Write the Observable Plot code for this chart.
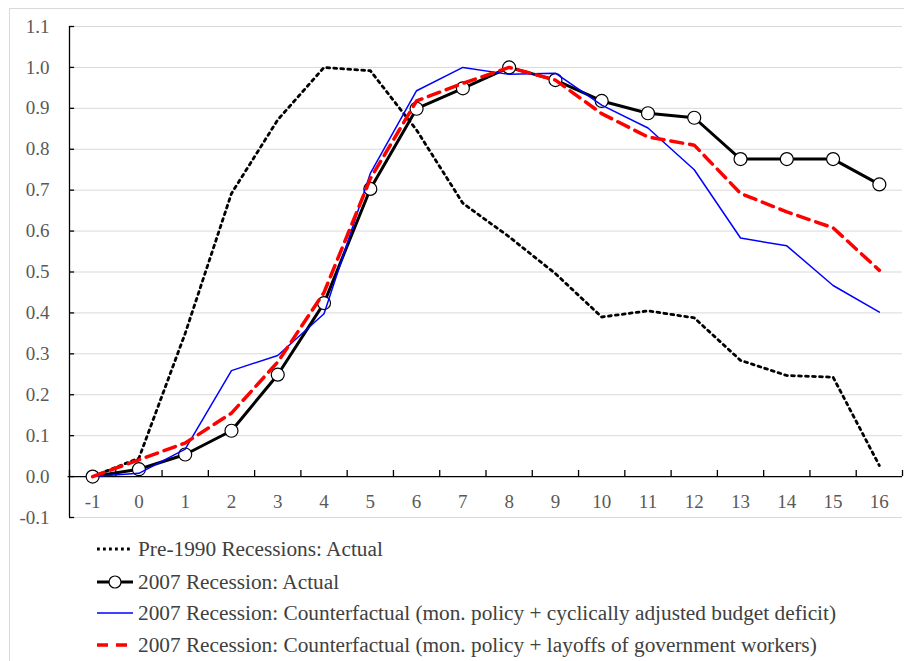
<!DOCTYPE html>
<html>
<head>
<meta charset="utf-8">
<script src="https://cdn.jsdelivr.net/npm/d3@7"></script>
<script src="https://cdn.jsdelivr.net/npm/@observablehq/plot@0.6"></script>
<style>
  html, body { margin: 0; padding: 0; background: #fff; }
  #wrap { position: relative; width: 904px; height: 661px; overflow: hidden; font-family: "Liberation Serif", "Times New Roman", serif; }
  #frame { position: absolute; left: 9px; top: 8px; width: 1000px; height: 1000px; border: 1px solid #d9d9d9; box-sizing: border-box; }
  #chart { position: absolute; left: 0; top: 0; }
  .leg { position: absolute; left: 95px; height: 30px; display: flex; align-items: center; font-size: 21.3px; color: #404040; white-space: nowrap; }
  .leg svg { display: block; margin-right: 3px; }
</style>
</head>
<body>
<div id="wrap">
  <div id="frame"></div>
  <div id="chart"></div>
  <div id="legend"></div>
</div>
<script>
// Quarters relative to the recession start
const quarters = [-1, 0, 1, 2, 3, 4, 5, 6, 7, 8, 9, 10, 11, 12, 13, 14, 15, 16];
const pre1990Actual = [0, 0.045, 0.35, 0.692, 0.872, 1.0, 0.992, 0.847, 0.668, 0.586, 0.496, 0.39, 0.405, 0.388, 0.284, 0.247, 0.243, 0.027];
const rec2007Actual = [0, 0.018, 0.054, 0.112, 0.249, 0.424, 0.703, 0.899, 0.949, 1.0, 0.969, 0.918, 0.888, 0.877, 0.776, 0.776, 0.776, 0.714];
const cfBudget = [0, 0.008, 0.067, 0.259, 0.296, 0.398, 0.741, 0.943, 1.0, 0.983, 0.986, 0.908, 0.852, 0.750, 0.583, 0.564, 0.467, 0.402];
const cfLayoffs = [0, 0.041, 0.082, 0.155, 0.28, 0.45, 0.728, 0.918, 0.961, 1.0, 0.969, 0.887, 0.830, 0.810, 0.692, 0.647, 0.608, 0.504];
const yTicks = [-0.1, 0, 0.1, 0.2, 0.3, 0.4, 0.5, 0.6, 0.7, 0.8, 0.9, 1.0, 1.1];
const xBoundaries = [-1.5, -0.5, 0.5, 1.5, 2.5, 3.5, 4.5, 5.5, 6.5, 7.5, 8.5, 9.5, 10.5, 11.5, 12.5, 13.5, 14.5, 15.5, 16.5];
const legendLabels = [
  "Pre-1990 Recessions: Actual",
  "2007 Recession: Actual",
  "2007 Recession: Counterfactual (mon. policy + cyclically adjusted budget deficit)",
  "2007 Recession: Counterfactual (mon. policy + layoffs of government workers)"
];

const mk = (vals) => quarters.map((q, i) => ({q, v: vals[i]}));
const dPre = mk(pre1990Actual), dAct = mk(rec2007Actual), dBud = mk(cfBudget), dLay = mk(cfLayoffs);

const xMin = -1.5, xMax = 16.5;
const chart = Plot.plot({
  width: 904,
  height: 530,
  marginLeft: 69,
  marginRight: 2,
  marginTop: 26,
  marginBottom: 13,
  x: {domain: [xMin, xMax], axis: null},
  y: {domain: [-0.1, 1.1], axis: null},
  style: {fontFamily: "Liberation Serif, Times New Roman, serif", background: "transparent", overflow: "visible"},
  marks: [
    Plot.ruleY(yTicks.filter(d => d !== 0), {y: d => d, x1: xMin, x2: xMax, stroke: "#d9d9d9", strokeWidth: 1}),
    Plot.ruleY([0], {x1: xMin - 0.03, x2: xMax, stroke: "#000", strokeWidth: 1.3}),
    Plot.ruleX([xMin], {y1: -0.1, y2: 1.1, stroke: "#000", strokeWidth: 1.3}),
    Plot.ruleY(yTicks, {y: d => d, x1: xMin, x2: xMin + 0.11, stroke: "#000", strokeWidth: 1.3}),
    Plot.ruleX(xBoundaries, {x: d => d, y1: 0, y2: 0.015, stroke: "#000", strokeWidth: 1.3}),
    Plot.text(yTicks, {x: xMin, y: d => d, dx: -20, textAnchor: "end", text: d => d.toFixed(1), fontSize: 19, fill: "#595959"}),
    Plot.text(quarters, {x: d => d, y: 0, dy: 25, text: d => String(d), fontSize: 19, fill: "#595959"}),
    Plot.line(dPre, {x: "q", y: "v", stroke: "#000", strokeWidth: 2.8, strokeDasharray: "2.8 4.2"}),
    Plot.line(dAct, {x: "q", y: "v", stroke: "#000", strokeWidth: 3}),
    Plot.dot(dAct, {x: "q", y: "v", r: 6.5, fill: "#fff", stroke: "#000", strokeWidth: 1.2}),
    Plot.line(dBud, {x: "q", y: "v", stroke: "#0000ff", strokeWidth: 1.5}),
    Plot.line(dLay, {x: "q", y: "v", stroke: "#ff0000", strokeWidth: 3.5, strokeDasharray: "12 7"})
  ]
});
document.getElementById("chart").appendChild(chart);

// Legend
const legend = document.getElementById("legend");
const samples = [
  `<svg width="40" height="12"><line x1="2" y1="6" x2="36" y2="6" stroke="#000" stroke-width="2.8" stroke-dasharray="2.8 3.2"/></svg>`,
  `<svg width="40" height="16"><line x1="2" y1="8" x2="38" y2="8" stroke="#000" stroke-width="3"/><circle cx="20" cy="8" r="6" fill="#fff" stroke="#000" stroke-width="1.2"/></svg>`,
  `<svg width="40" height="12"><line x1="2" y1="6" x2="38" y2="6" stroke="#0000ff" stroke-width="1.5"/></svg>`,
  `<svg width="40" height="12"><line x1="2" y1="6" x2="38" y2="6" stroke="#ff0000" stroke-width="3.5" stroke-dasharray="11 8"/></svg>`
];
const rowY = [549, 582, 613, 645];
legendLabels.forEach((lab, i) => {
  const div = document.createElement("div");
  div.className = "leg";
  div.style.top = (rowY[i] - 15) + "px";
  div.innerHTML = samples[i] + `<span>${lab}</span>`;
  legend.appendChild(div);
});
</script>
</body>
</html>
